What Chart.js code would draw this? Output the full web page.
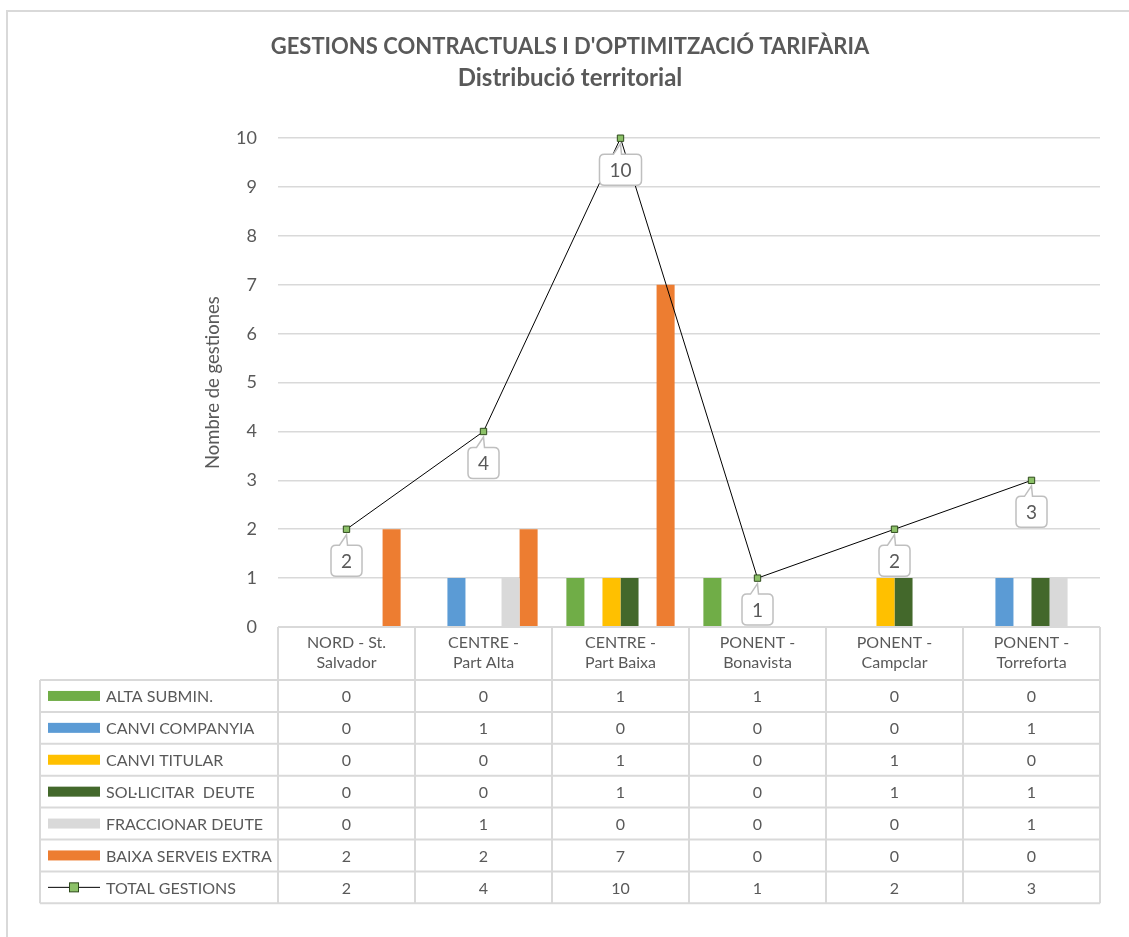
<!DOCTYPE html>
<html lang="ca">
<head>
  <meta charset="utf-8">
  <title>Gestions contractuals i d'optimització tarifària</title>
  <style>
    body { margin: 0; background: #fff; }
    #wrap { width: 1129px; height: 937px; }
  </style>
</head>
<body>
  <div id="wrap">
    <canvas id="myChart" width="1129" height="937"></canvas>
  </div>

  <script src="https://cdn.jsdelivr.net/npm/chart.js/dist/chart.umd.min.js"></script>
  <script>
    // data
    const categories = [
      ['NORD - St.', 'Salvador'],
      ['CENTRE -', 'Part Alta'],
      ['CENTRE -', 'Part Baixa'],
      ['PONENT -', 'Bonavista'],
      ['PONENT -', 'Campclar'],
      ['PONENT -', 'Torreforta']
    ];
    const seriesNames = ['ALTA SUBMIN.', 'CANVI COMPANYIA', 'CANVI TITULAR', 'SOL·LICITAR  DEUTE', 'FRACCIONAR DEUTE', 'BAIXA SERVEIS EXTRA'];
    const altaSubmin = [0, 0, 1, 1, 0, 0];
    const canviCompanyia = [0, 1, 0, 0, 0, 1];
    const canviTitular = [0, 0, 1, 0, 1, 0];
    const solLicitarDeute = [0, 0, 1, 0, 1, 1];
    const fraccionarDeute = [0, 1, 0, 0, 0, 1];
    const baixaServeis = [2, 2, 7, 0, 0, 0];
    const totalName = 'TOTAL GESTIONS';
    const totalGestions = [2, 4, 10, 1, 2, 3];
    const yTicks = [0, 1, 2, 3, 4, 5, 6, 7, 8, 9, 10];

    const barColors = ['#70ad47', '#5b9bd5', '#ffc000', '#43682b', '#d9d9d9', '#ed7d31'];
    const barValues = [altaSubmin, canviCompanyia, canviTitular, solLicitarDeute, fraccionarDeute, baixaServeis];

    const FONT = 'Lato, "Open Sans", sans-serif';
    const TEXT = '#595959';
    const LINE = '#d9d9d9';

    const datasets = barValues.map((vals, i) => ({
      type: 'bar',
      label: seriesNames[i],
      data: vals,
      backgroundColor: barColors[i],
      borderWidth: 0,
      categoryPercentage: 0.79,
      barPercentage: 1,
      order: 1
    }));
    datasets.push({
      type: 'line',
      label: totalName,
      data: totalGestions,
      borderColor: '#000',
      borderWidth: 1,
      pointStyle: 'rect',
      pointRadius: 4.5,
      pointBackgroundColor: '#8cc168',
      pointBorderColor: '#2e4a1c',
      pointBorderWidth: 1,
      tension: 0,
      clip: false,
      order: 0
    });

    // outer frame
    const framePlugin = {
      id: 'frame',
      beforeDraw(chart) {
        const ctx = chart.ctx;
        ctx.save();
        ctx.fillStyle = '#fff';
        ctx.fillRect(0, 0, chart.width, chart.height);
        ctx.strokeStyle = LINE;
        ctx.lineWidth = 2;
        ctx.strokeRect(7, 11, chart.width + 20, chart.height + 20);
        ctx.restore();
      }
    };

    // callout labels on the total line
    const calloutPlugin = {
      id: 'callouts',
      afterDatasetsDraw(chart) {
        const ctx = chart.ctx;
        const meta = chart.getDatasetMeta(datasets.length - 1);
        ctx.save();
        ctx.font = '19px ' + FONT;
        ctx.textAlign = 'center';
        ctx.textBaseline = 'middle';
        meta.data.forEach((pt, i) => {
          const txt = String(totalGestions[i]);
          const w = Math.max(29, ctx.measureText(txt).width + 20);
          const h = 31;
          const cx = pt.x;
          const top = pt.y + 16;
          const x = cx - w / 2;
          ctx.beginPath();
          // box with a tail pointing to the marker
          ctx.moveTo(x + 5, top);
          ctx.lineTo(cx - 7, top);
          ctx.lineTo(cx, pt.y + 5.5);
          ctx.lineTo(cx + 1, top);
          ctx.lineTo(x + w - 5, top);
          ctx.quadraticCurveTo(x + w, top, x + w, top + 5);
          ctx.lineTo(x + w, top + h - 5);
          ctx.quadraticCurveTo(x + w, top + h, x + w - 5, top + h);
          ctx.lineTo(x + 5, top + h);
          ctx.quadraticCurveTo(x, top + h, x, top + h - 5);
          ctx.lineTo(x, top + 5);
          ctx.quadraticCurveTo(x, top, x + 5, top);
          ctx.closePath();
          ctx.fillStyle = '#fff';
          ctx.fill();
          ctx.strokeStyle = '#bfbfbf';
          ctx.lineWidth = 1.5;
          ctx.stroke();
          ctx.fillStyle = TEXT;
          ctx.fillText(txt, cx, top + h / 2 + 1);
        });
        ctx.restore();
      }
    };

    // data table under the plot
    const tablePlugin = {
      id: 'dataTable',
      afterDraw(chart) {
        const ctx = chart.ctx;
        const area = chart.chartArea;
        const n = categories.length;
        const colW = area.width / n;
        const tableLeft = 40;
        const headTop = area.bottom;
        const headH = 53;
        const rowH = 31.9;
        const rows = seriesNames.length + 1;
        const bodyTop = headTop + headH;
        const bottom = bodyTop + rows * rowH;

        ctx.save();
        ctx.strokeStyle = LINE;
        ctx.lineWidth = 2;
        ctx.beginPath();
        ctx.moveTo(area.left, headTop);
        ctx.lineTo(area.right, headTop);
        for (let r = 0; r <= rows; r++) {
          const y = bodyTop + r * rowH;
          ctx.moveTo(tableLeft, y);
          ctx.lineTo(area.right, y);
        }
        for (let c = 0; c <= n; c++) {
          const x = area.left + c * colW;
          ctx.moveTo(x, headTop);
          ctx.lineTo(x, bottom);
        }
        ctx.moveTo(tableLeft, bodyTop);
        ctx.lineTo(tableLeft, bottom);
        ctx.stroke();

        ctx.fillStyle = TEXT;
        ctx.font = '16px ' + FONT;
        ctx.textAlign = 'center';
        ctx.textBaseline = 'middle';
        categories.forEach((lines, c) => {
          const cx = chart.scales.x.getPixelForValue(c);
          lines.forEach((ln, k) => ctx.fillText(ln, cx, headTop + 16 + k * 20));
        });

        const allRows = barValues.concat([totalGestions]);
        allRows.forEach((vals, r) => {
          const cy = bodyTop + r * rowH + rowH / 2 + 1;
          vals.forEach((v, c) => {
            ctx.fillText(String(v), chart.scales.x.getPixelForValue(c), cy);
          });
        });

        // legend keys
        ctx.textAlign = 'left';
        const names = seriesNames.concat([totalName]);
        names.forEach((name, r) => {
          const cy = bodyTop + r * rowH + rowH / 2;
          if (r < seriesNames.length) {
            ctx.fillStyle = barColors[r];
            ctx.fillRect(48, cy - 5, 52, 10);
          } else {
            ctx.strokeStyle = '#000';
            ctx.lineWidth = 1;
            ctx.beginPath();
            ctx.moveTo(48, cy);
            ctx.lineTo(100, cy);
            ctx.stroke();
            ctx.fillStyle = '#8cc168';
            ctx.fillRect(69.5, cy - 4.5, 9, 9);
            ctx.strokeStyle = '#2e4a1c';
            ctx.strokeRect(69.5, cy - 4.5, 9, 9);
          }
          ctx.fillStyle = TEXT;
          ctx.fillText(name, 106, cy + 1);
        });
        ctx.restore();
      }
    };

    const config = {
      data: { labels: categories, datasets: datasets },
      options: {
        responsive: false,
        animation: false,
        layout: { padding: { left: 40, right: 29, top: 0, bottom: 310 } },
        plugins: {
          legend: { display: false },
          tooltip: { enabled: false },
          title: {
            display: true,
            text: "GESTIONS CONTRACTUALS I D'OPTIMITZACIÓ TARIFÀRIA",
            color: TEXT,
            font: { family: FONT, size: 22, weight: 'bold' },
            padding: { top: 34, bottom: 1 }
          },
          subtitle: {
            display: true,
            text: 'Distribució territorial',
            color: TEXT,
            font: { family: FONT, size: 24, weight: 'bold' },
            padding: { top: 2, bottom: 46 }
          }
        },
        scales: {
          x: {
            display: false,
            offset: true
          },
          y: {
            min: 0,
            max: 10,
            afterFit(scale) { scale.width = 238; },
            afterBuildTicks(scale) { scale.ticks = yTicks.map(v => ({ value: v })); },
            ticks: {
              color: TEXT,
              padding: 21,
              font: { family: FONT, size: 18 }
            },
            grid: { color: LINE, lineWidth: 1.5, drawTicks: false },
            border: { display: false },
            title: {
              display: true,
              text: 'Nombre de gestiones',
              color: TEXT,
              font: { family: FONT, size: 18.5 },
              padding: { top: 162, bottom: 0 }
            }
          }
        }
      },
      plugins: [framePlugin, calloutPlugin, tablePlugin]
    };

    const ctx = document.getElementById('myChart').getContext('2d');
    const myChart = new Chart(ctx, config);
  </script>
</body>
</html>
